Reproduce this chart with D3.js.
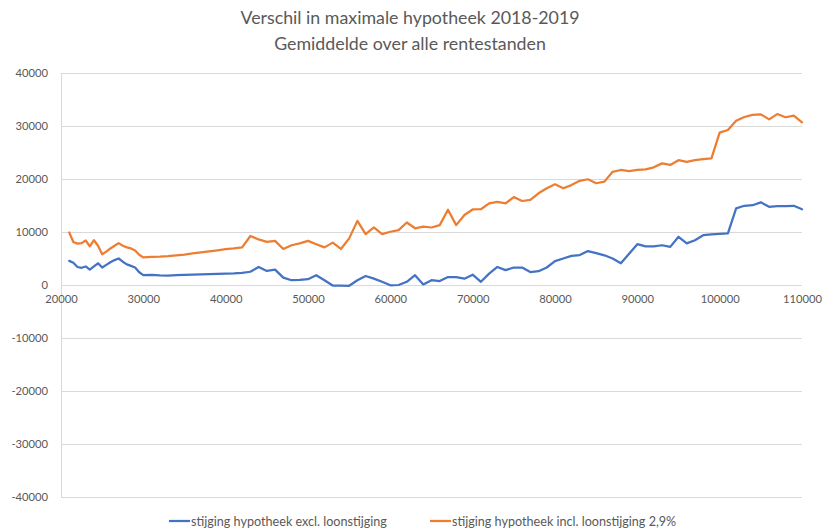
<!DOCTYPE html>
<html><head><meta charset="utf-8">
<script src="https://cdn.jsdelivr.net/npm/d3@7"></script>
<style>
html,body{margin:0;padding:0;background:#fff;}
svg{display:block;font-family:Lato,"Open Sans",sans-serif;}
</style></head>
<body><svg id="chart" width="826" height="530"></svg>
<script>
const titleLines = ["Verschil in maximale hypotheek 2018-2019", "Gemiddelde over alle rentestanden"];
const seriesNames = ["stijging hypotheek excl. loonstijging", "stijging hypotheek incl. loonstijging 2,9%"];
const xTicks = [20000, 30000, 40000, 50000, 60000, 70000, 80000, 90000, 100000, 110000];
const yTicks = [-40000, -30000, -20000, -10000, 0, 10000, 20000, 30000, 40000];
const incomes = [21000,21500,22000,22500,23000,23500,24000,24500,25000,25500,26000,26500,27000,27500,28000,28500,29000,29500,30000,
 31000,32000,33000,34000,35000,36000,37000,38000,39000,40000,41000,42000,43000,44000,45000,46000,47000,48000,49000,50000,
 51000,52000,53000,54000,55000,56000,57000,58000,59000,60000,61000,62000,63000,64000,65000,66000,67000,68000,69000,70000,
 71000,72000,73000,74000,75000,76000,77000,78000,79000,80000,81000,82000,83000,84000,85000,86000,87000,88000,89000,90000,
 91000,92000,93000,94000,95000,96000,97000,98000,99000,100000,101000,102000,103000,104000,105000,106000,107000,108000,109000,110000];
const exclValues = [4550,4200,3400,3250,3500,2900,3500,4100,3300,3800,4300,4700,5000,4400,3900,3600,3300,2400,1850,
 1900,1800,1750,1850,1900,1950,2000,2050,2100,2150,2200,2300,2500,3400,2650,2900,1400,900,950,1100,
 1850,900,-100,-100,-150,900,1700,1200,600,-50,0,600,1850,100,900,750,1500,1500,1200,1950,
 600,2150,3400,2800,3300,3300,2450,2600,3300,4500,5000,5500,5650,6400,6000,5600,5000,4100,5900,7700,
 7300,7300,7500,7200,9100,7850,8450,9400,9550,9650,9750,14450,14950,15050,15600,14750,14900,14900,14950,14300];
const inclValues = [9900,8100,7800,7900,8400,7300,8450,7400,5800,6300,6900,7400,7900,7400,7100,6900,6500,5700,5200,
 5300,5350,5450,5600,5750,5950,6150,6350,6550,6750,6900,7100,9250,8600,8150,8330,6800,7500,7850,8330,
 7700,7100,8000,6800,8800,12100,9600,10850,9600,10050,10350,11800,10700,11000,10850,11300,14200,11300,13200,14250,
 14300,15400,15700,15400,16600,15850,16050,17300,18250,19000,18250,18850,19650,19950,19200,19500,21350,21700,21500,21700,
 21800,22200,22950,22650,23550,23250,23550,23750,23900,28750,29250,31000,31700,32100,32200,31250,32250,31650,31950,30700];
const colors = ["#4472C4", "#ED7D31"];

const svg = d3.select("#chart");
const x = d3.scaleLinear().domain([20000, 110000]).range([61, 802]);
const y = d3.scaleLinear().domain([-40000, 40000]).range([497, 73]);
const fmt = d => String(d);

// title
svg.append("g").selectAll("text").data(titleLines).join("text")
  .attr("x", 410).attr("y", (d, i) => 24 + i * 26)
  .attr("text-anchor", "middle").attr("fill", "#595959")
  .attr("font-size", 17.8).text(d => d);

// gridlines
svg.append("g").selectAll("line").data(yTicks).join("line")
  .attr("x1", x(20000)).attr("x2", x(110000))
  .attr("y1", d => Math.round(y(d)) + 0.5).attr("y2", d => Math.round(y(d)) + 0.5)
  .attr("stroke", "#d9d9d9").attr("stroke-width", 1);

// y axis line
svg.append("line").attr("x1", Math.round(x(20000)) + 0.5).attr("x2", Math.round(x(20000)) + 0.5)
  .attr("y1", y(40000)).attr("y2", y(-40000)).attr("stroke", "#d9d9d9");

// y labels
const yAxis = d3.axisLeft(y).tickValues(yTicks).tickSize(0).tickPadding(0).tickFormat(fmt);
const gy = svg.append("g").attr("transform", "translate(48,0)").call(yAxis);
gy.select(".domain").remove();
gy.selectAll("text").attr("fill", "#595959").attr("font-size", 11.2).attr("font-family", "Lato,'Open Sans',sans-serif");

// x labels
const xAxis = d3.axisBottom(x).tickValues(xTicks).tickSize(0).tickPadding(0).tickFormat(fmt);
const gx = svg.append("g").attr("transform", `translate(0,${y(0) + 10})`).call(xAxis);
gx.select(".domain").remove();
gx.selectAll("text").attr("fill", "#595959").attr("font-size", 11.2).attr("font-family", "Lato,'Open Sans',sans-serif");

// lines
const series = [exclValues, inclValues];
const line = d3.line().x((d, i) => x(incomes[i])).y(d => y(d));
svg.append("g").selectAll("path").data(series).join("path")
  .attr("d", line).attr("fill", "none")
  .attr("stroke", (d, i) => colors[i]).attr("stroke-width", 2.25)
  .attr("stroke-linejoin", "round").attr("stroke-linecap", "round");

// legend
const legendX = [169, 430];
const lg = svg.append("g").selectAll("g").data(seriesNames).join("g")
  .attr("transform", (d, i) => `translate(${legendX[i]},521)`);
lg.append("line").attr("x1", 0).attr("x2", 21).attr("y1", 0).attr("y2", 0)
  .attr("stroke", (d, i) => colors[i]).attr("stroke-width", 2.25);
lg.append("text").attr("x", 22).attr("y", 4.5).attr("fill", "#595959")
  .attr("font-size", 12.6).text(d => d);
</script></body></html>
